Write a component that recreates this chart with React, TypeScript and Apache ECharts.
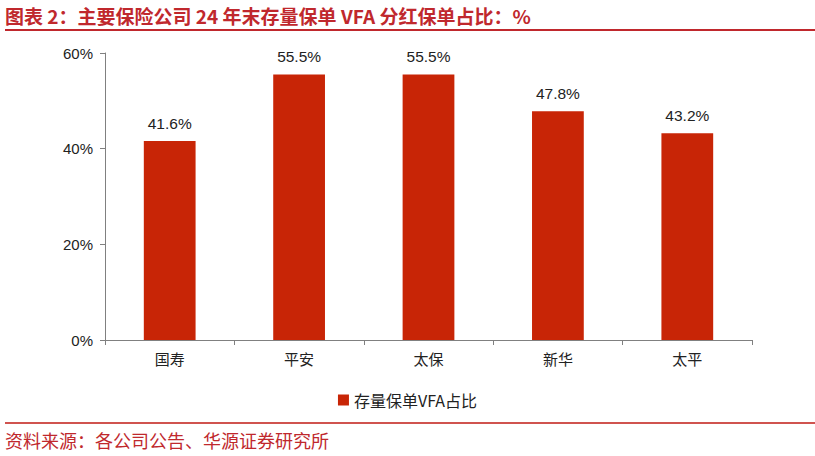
import { useEffect, useRef } from 'react';
import * as echarts from 'echarts';

const categories = ['国寿', '平安', '太保', '新华', '太平'];
const vfaShare = [41.6, 55.5, 55.5, 47.8, 43.2];
const yTicks = [0, 20, 40, 60];
const seriesName = '存量保单VFA占比';
const titleText = '图表 2：主要保险公司 24 年末存量保单 VFA 分红保单占比：%';
const sourceText = '资料来源：各公司公告、华源证券研究所';

const RED = '#c0282d';
const CJK = '"Noto Sans CJK SC", "Liberation Sans", sans-serif';
const LATIN = '"Liberation Sans", Arial, "Noto Sans CJK SC", sans-serif';

export default function App() {
  const chartRef = useRef<HTMLDivElement>(null);

  useEffect(() => {
    if (!chartRef.current) return;
    document.body.style.margin = '0';
    const instance = echarts.init(chartRef.current, undefined, { renderer: 'svg' });

    instance.setOption({
      animation: false,
      backgroundColor: '#fff',
      grid: { left: 105, right: 63, top: 53, bottom: 116 },
      legend: {
        data: [seriesName],
        left: 'center',
        top: 387,
        itemWidth: 11,
        itemHeight: 11,
        itemGap: 6,
        icon: 'rect',
        textStyle: { fontSize: 16, color: '#222', fontFamily: CJK },
      },
      xAxis: {
        type: 'category',
        data: categories,
        axisLine: { lineStyle: { color: '#808080', width: 1 } },
        axisTick: { show: true, alignWithLabel: false, length: 5, lineStyle: { color: '#808080' } },
        axisLabel: { fontSize: 15, color: '#222', fontFamily: CJK, margin: 11 },
      },
      yAxis: {
        type: 'value',
        min: yTicks[0],
        max: yTicks[yTicks.length - 1],
        interval: 20,
        axisLine: { show: true, lineStyle: { color: '#808080', width: 1 } },
        axisTick: { show: true, length: 5, lineStyle: { color: '#808080' } },
        splitLine: { show: false },
        axisLabel: {
          fontSize: 15,
          color: '#222',
          fontFamily: LATIN,
          margin: 12,
          formatter: (v: number) => `${v}%`,
        },
      },
      series: [
        {
          name: seriesName,
          type: 'bar',
          data: vfaShare,
          barWidth: '40%',
          itemStyle: { color: '#c82506' },
          label: {
            show: true,
            position: 'top',
            distance: 10,
            fontSize: 15.5,
            color: '#222',
            fontFamily: LATIN,
            formatter: (p: { value: number }) => `${p.value.toFixed(1)}%`,
          },
        },
      ],
      graphic: [
        {
          type: 'text',
          style: {
            x: 5,
            y: 15,
            text: titleText,
            fill: RED,
            font: `bold 19px ${CJK}`,
            textVerticalAlign: 'middle',
          },
        },
        {
          type: 'line',
          shape: { x1: 5, y1: 30, x2: 815, y2: 30 },
          style: { stroke: RED, lineWidth: 2 },
        },
        {
          type: 'line',
          shape: { x1: 5, y1: 423, x2: 815, y2: 423 },
          style: { stroke: '#d0534f', lineWidth: 2 },
        },
        {
          type: 'text',
          style: {
            x: 5,
            y: 440,
            text: sourceText,
            fill: RED,
            font: `18px ${CJK}`,
            textVerticalAlign: 'middle',
          },
        },
      ],
    });

    return () => {
      instance.dispose();
    };
  }, []);

  return <div ref={chartRef} style={{ width: 815, height: 456 }} />;
}
